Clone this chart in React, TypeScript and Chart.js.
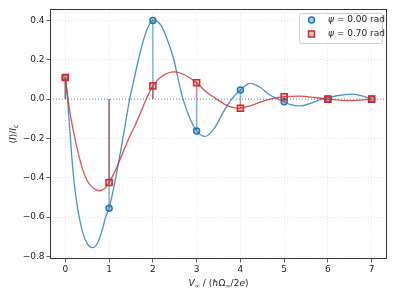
import { useEffect, useRef } from "react";
import { Chart, registerables } from "chart.js";

Chart.register(...registerables);

// ---- data ----
const nValues = [0, 1, 2, 3, 4, 5, 6, 7];
const blueAtN = [0.11, -0.555, 0.4, -0.162, 0.046, -0.014, 0.0, 0.0];
const redAtN = [0.11, -0.424, 0.067, 0.083, -0.047, 0.012, 0.0, 0.0];

const blueCurveX = [0, 0.05, 0.1, 0.15, 0.2, 0.25, 0.3, 0.4, 0.5, 0.63, 0.75, 0.85, 0.92, 1.0, 1.15, 1.3, 1.47, 1.57, 1.67, 1.8, 1.9, 2.0, 2.1, 2.2, 2.35, 2.48, 2.58, 2.69, 2.85, 3.0, 3.19, 3.4, 3.6, 3.8, 4.0, 4.22, 4.45, 4.65, 4.86, 5.0, 5.15, 5.37, 5.6, 5.86, 6.0, 6.2, 6.55, 6.8, 7.0];
const blueCurveY = [0.11, 0.0, -0.15, -0.3, -0.42, -0.51, -0.58, -0.68, -0.735, -0.755, -0.725, -0.66, -0.6, -0.555, -0.4, -0.22, 0.0, 0.1, 0.2, 0.31, 0.37, 0.4, 0.395, 0.37, 0.29, 0.2, 0.1, 0.0, -0.1, -0.162, -0.19, -0.15, -0.07, 0.0, 0.046, 0.08, 0.06, 0.025, 0.0, -0.014, -0.028, -0.035, -0.022, 0.0, 0.006, 0.017, 0.025, 0.015, 0.0];

const redCurveX = [0, 0.1, 0.2, 0.3, 0.4, 0.5, 0.65, 0.78, 0.9, 1.0, 1.15, 1.3, 1.45, 1.6, 1.72, 1.85, 2.0, 2.2, 2.5, 2.75, 3.0, 3.2, 3.46, 3.7, 3.95, 4.2, 4.45, 4.68, 5.0, 5.35, 5.7, 6.0, 6.5, 7.0];
const redCurveY = [0.11, -0.06, -0.18, -0.28, -0.36, -0.415, -0.455, -0.466, -0.455, -0.424, -0.36, -0.28, -0.2, -0.13, -0.07, 0.0, 0.067, 0.115, 0.138, 0.12, 0.083, 0.04, 0.0, -0.033, -0.047, -0.036, -0.016, 0.0, 0.012, 0.015, 0.008, 0.0, -0.008, 0.0];

const xTicks = [0, 1, 2, 3, 4, 5, 6, 7];
const yTicks = [-0.8, -0.6, -0.4, -0.2, 0.0, 0.2, 0.4];
const xRange = [-0.35, 7.35];
const yRange = [-0.813, 0.458];
const baselineValue = 0;
const legendLabels = ["0.00 rad", "0.70 rad"];

// ---- styles ----
const FONT = "'DejaVu Sans', sans-serif";
const BLUE = "#1f77b4";
const RED = "#d62728";
const BLUE_LINE = "rgba(31,119,180,0.8)";
const RED_LINE = "rgba(214,39,40,0.8)";

type Part = { t: string; it?: boolean; sub?: boolean };

function drawRich(ctx: CanvasRenderingContext2D, parts: Part[], size: number) {
  const fontFor = (p: Part) => `${p.it ? "italic " : ""}${p.sub ? size * 0.7 : size}px ${FONT}`;
  let total = 0;
  const widths = parts.map((p) => {
    ctx.font = fontFor(p);
    const w = ctx.measureText(p.t).width;
    total += w;
    return w;
  });
  let x = -total / 2;
  parts.forEach((p, i) => {
    ctx.font = fontFor(p);
    ctx.fillText(p.t, x, p.sub ? size * 0.22 : 0);
    x += widths[i];
  });
}

const decorPlugin = {
  id: "decor",
  beforeDatasetsDraw(chart: any) {
    const { ctx, chartArea } = chart;
    const y = chart.scales.y.getPixelForValue(baselineValue);
    ctx.save();
    ctx.strokeStyle = "rgba(70,130,180,0.85)";
    ctx.lineWidth = 1;
    ctx.setLineDash([1, 2]);
    ctx.beginPath();
    ctx.moveTo(chartArea.left, y);
    ctx.lineTo(chartArea.right, y);
    ctx.stroke();
    ctx.restore();
  },
  afterDraw(chart: any) {
    const { ctx, chartArea } = chart;
    ctx.save();
    // frame
    ctx.strokeStyle = "#333";
    ctx.lineWidth = 1;
    ctx.strokeRect(chartArea.left + 0.5, chartArea.top + 0.5, chartArea.right - chartArea.left - 1, chartArea.bottom - chartArea.top - 1);

    // axis titles
    ctx.fillStyle = "#222";
    ctx.textBaseline = "middle";
    ctx.textAlign = "left";
    ctx.save();
    ctx.translate((chartArea.left + chartArea.right) / 2, chartArea.bottom + 25);
    drawRich(ctx, [
      { t: "V", it: true }, { t: "∞", sub: true }, { t: " / (" }, { t: "ħ", it: true },
      { t: "Ω" }, { t: "∞", sub: true }, { t: "/2" }, { t: "e", it: true }, { t: ")" },
    ], 9);
    ctx.restore();
    ctx.save();
    ctx.translate(14, (chartArea.top + chartArea.bottom) / 2);
    ctx.rotate(-Math.PI / 2);
    drawRich(ctx, [{ t: "⟨" }, { t: "I", it: true }, { t: "⟩/" }, { t: "I", it: true }, { t: "c", sub: true }], 9);
    ctx.restore();

    // legend
    const bx = chartArea.right - 88, by = chartArea.top + 4, bw = 83, bh = 30;
    ctx.fillStyle = "rgba(255,255,255,0.8)";
    ctx.strokeStyle = "#cccccc";
    ctx.beginPath();
    (ctx as any).roundRect(bx + 0.5, by + 0.5, bw, bh, 2);
    ctx.fill();
    ctx.stroke();
    const rows = [by + 7, by + 21];
    // blue circle
    ctx.lineWidth = 1.5;
    ctx.strokeStyle = BLUE;
    ctx.fillStyle = "rgba(31,119,180,0.35)";
    ctx.beginPath();
    ctx.arc(bx + 12.5, rows[0], 3, 0, Math.PI * 2);
    ctx.fill();
    ctx.stroke();
    ctx.strokeStyle = RED;
    ctx.fillStyle = "rgba(214,39,40,0.3)";
    ctx.beginPath();
    ctx.rect(bx + 9.5, rows[1] - 3, 6, 6);
    ctx.fill();
    ctx.stroke();
    ctx.fillStyle = "#222";
    legendLabels.forEach((lab, i) => {
      ctx.font = `italic 9px ${FONT}`;
      const x0 = bx + 29;
      ctx.fillText("ψ", x0, rows[i]);
      const w = ctx.measureText("ψ").width;
      ctx.font = `9px ${FONT}`;
      ctx.fillText(" = " + lab, x0 + w, rows[i]);
    });
    ctx.restore();
  },
};

function stems(values: number[]) {
  const out: any[] = [];
  nValues.forEach((n, i) => {
    out.push({ x: n, y: baselineValue });
    out.push({ x: n, y: values[i] });
    out.push({ x: n, y: null });
  });
  return out;
}

function pts(xs: number[], ys: number[]) {
  return xs.map((x, i) => ({ x, y: ys[i] }));
}

export default function App() {
  const ref = useRef<HTMLCanvasElement | null>(null);
  useEffect(() => {
    if (!ref.current) return;
    const chart = new Chart(ref.current, {
      type: "line",
      data: {
        datasets: [
          {
            label: "red markers",
            data: pts(nValues, redAtN),
            showLine: false,
            pointStyle: "rect",
            pointRadius: 4.3,
            pointBorderWidth: 1.5,
            pointBorderColor: RED,
            pointBackgroundColor: "rgba(214,39,40,0.3)",
            order: 1,
          },
          {
            label: "blue markers",
            data: pts(nValues, blueAtN),
            showLine: false,
            pointStyle: "circle",
            pointRadius: 3,
            pointBorderWidth: 1.5,
            pointBorderColor: BLUE,
            pointBackgroundColor: "rgba(31,119,180,0.35)",
            order: 2,
          },
          {
            label: "red stems",
            data: stems(redAtN),
            borderColor: "rgba(180,40,60,0.55)",
            borderWidth: 1.5,
            pointRadius: 0,
            spanGaps: false,
            order: 3,
          },
          {
            label: "red curve",
            data: pts(redCurveX, redCurveY),
            borderColor: RED_LINE,
            borderWidth: 1.3,
            pointRadius: 0,
            cubicInterpolationMode: "monotone",
            order: 4,
          },
          {
            label: "blue stems",
            data: stems(blueAtN),
            borderColor: "rgba(31,119,180,0.55)",
            borderWidth: 1.5,
            pointRadius: 0,
            spanGaps: false,
            order: 5,
          },
          {
            label: "blue curve",
            data: pts(blueCurveX, blueCurveY),
            borderColor: BLUE_LINE,
            borderWidth: 1.3,
            pointRadius: 0,
            cubicInterpolationMode: "monotone",
            order: 6,
          },
        ] as any,
      },
      options: {
        animation: false,
        responsive: false,
        maintainAspectRatio: false,
        layout: { padding: { left: 0, top: 9, right: 9, bottom: 0 } },
        plugins: { legend: { display: false }, tooltip: { enabled: false } },
        scales: {
          x: {
            type: "linear",
            min: xRange[0],
            max: xRange[1],
            afterBuildTicks: (s: any) => { s.ticks = xTicks.map((v) => ({ value: v })); },
            afterFit: (s: any) => { s.height = 38; },
            ticks: {
              font: { family: FONT, size: 9 },
              color: "#222",
              padding: 2,
              maxRotation: 0,
              callback: (v: any) => String(v),
            },
            grid: { color: "rgba(0,0,0,0.13)", tickColor: "#333", tickLength: 3.5, lineWidth: 0.8 },
            border: { display: false, dash: [1, 2] },
          },
          y: {
            type: "linear",
            min: yRange[0],
            max: yRange[1],
            afterBuildTicks: (s: any) => { s.ticks = yTicks.map((v) => ({ value: v })); },
            afterFit: (s: any) => { s.width = 50; },
            ticks: {
              font: { family: FONT, size: 9 },
              color: "#222",
              padding: 2,
              callback: (v: any) => Number(v).toFixed(1).replace("-", "−"),
            },
            grid: { color: "rgba(0,0,0,0.13)", tickColor: "#333", tickLength: 3.5, lineWidth: 0.8 },
            border: { display: false, dash: [1, 2] },
          },
        },
      },
      plugins: [decorPlugin],
    });
    return () => chart.destroy();
  }, []);

  return (
    <div style={{ position: "fixed", left: 0, top: 0, width: 396, height: 297, background: "#fff" }}>
      <canvas ref={ref} width={396} height={297} style={{ width: 396, height: 297 }} />
    </div>
  );
}
